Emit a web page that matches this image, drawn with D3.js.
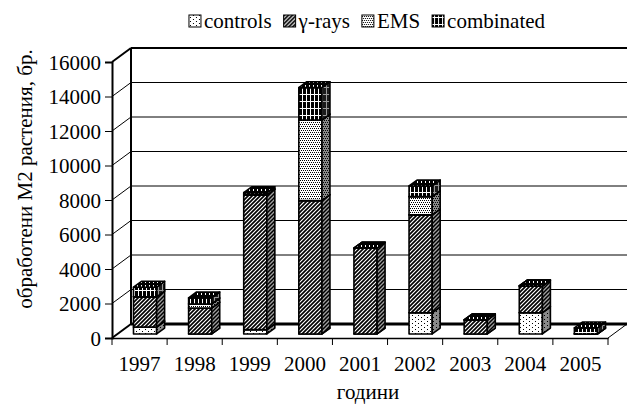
<!DOCTYPE html>
<meta charset="utf-8">
<head>
    <meta charset="utf-8">
    <title>обработени М2 растения</title>
    <script src="https://d3js.org/d3.v7.min.js" charset="utf-8"></script>
    <style>
        html, body {
            margin: 0;
            padding: 0;
            background: #fff;
        }
        text {
            font-family: "Liberation Serif", "Times New Roman", serif;
            font-size: 21px;
            fill: #000;
        }
        .grid line {
            stroke: #000;
            stroke-width: 1;
        }
        .bar-face {
            stroke: #000;
            stroke-width: 1.6;
            stroke-linejoin: round;
        }
    </style>
</head>

<body>
<div class="chart"></div>

<script>

/****************************
1. データ
****************************/
var years = ["1997", "1998", "1999", "2000", "2001", "2002", "2003", "2004", "2005"];

var controls   = [400,  0,    250,  0,    0,    1230, 0,   1230, 0];
var gammaRays  = [1750, 1500, 7810, 7730, 4970, 5670, 810, 1550, 0];
var ems        = [0,    240,  0,    4670, 0,    1060, 0,   0,    0];
var combinated = [560,  350,  130,  1880, 0,    620,  0,   0,    350];

var seriesKeys   = ["controls", "gamma", "ems", "combinated"];
var seriesLabels = ["controls", "γ-rays", "EMS", "combinated"];

var yTicks = [0, 2000, 4000, 6000, 8000, 10000, 12000, 14000, 16000];

var yTitle = "обработени М2 растения, бр.";
var xTitle = "години";

var table = years.map(function(y, i) {
    return {year: y, controls: controls[i], gamma: gammaRays[i], ems: ems[i], combinated: combinated[i]};
});


/****************************
2. svg コンテナ
****************************/
var width = 627, height = 404;
var plot = {left: 112, right: 608, bottom: 338, top: 62};
var depth = {dx: 19, dy: -14};     // 奥行き（擬似3D）

const svg = d3.select(".chart")
    .append("svg")
    .attr("width", width)
    .attr("height", height);

var defs = svg.append("defs");

function addPattern(id, w, h, bg, draw) {
    var p = defs.append("pattern")
        .attr("id", id)
        .attr("patternUnits", "userSpaceOnUse")
        .attr("width", w)
        .attr("height", h);
    p.append("rect").attr("width", w).attr("height", h).attr("fill", bg);
    draw(p);
}

function dots(pts, color) {
    return function(p) {
        pts.forEach(function(d) {
            p.append("rect").attr("x", d[0]).attr("y", d[1]).attr("width", 1).attr("height", 1).attr("fill", color);
        });
    };
}

function diag(color, w) {
    return function(p) {
        p.append("path")
            .attr("d", "M-1,1 L1,-1 M0,4 L4,0 M3,5 L5,3")
            .attr("stroke", color)
            .attr("stroke-width", w);
    };
}

function grid(color) {
    return function(p) {
        p.append("rect").attr("x", 2).attr("y", 0).attr("width", 1).attr("height", 7).attr("fill", color);
        p.append("rect").attr("x", 0).attr("y", 3).attr("width", 4).attr("height", 1).attr("fill", color);
    };
}

// front / side / top
addPattern("controls-front", 6, 4, "#fff", dots([[1, 1], [4, 3]], "#000"));
addPattern("controls-side", 6, 4, "#8a8a8a", dots([[1, 1], [4, 3]], "#000"));
addPattern("controls-top", 6, 4, "#fff", dots([[1, 1], [4, 3]], "#000"));

addPattern("gamma-front", 4, 4, "#fff", diag("#000", 1.7));
addPattern("gamma-side", 4, 4, "#a0a0a0", diag("#000", 1.5));
addPattern("gamma-top", 4, 4, "#ddd", diag("#000", 1.5));

addPattern("ems-front", 4, 4, "#fff", dots([[0, 0], [2, 0], [1, 2], [3, 2]], "#000"));
addPattern("ems-side", 4, 4, "#8a8a8a", dots([[0, 0], [2, 0], [1, 2], [3, 2]], "#000"));
addPattern("ems-top", 4, 4, "#fff", dots([[0, 0], [2, 0], [1, 2], [3, 2]], "#000"));

addPattern("combinated-front", 4, 7, "#000", grid("#fff"));
addPattern("combinated-side", 4, 7, "#1a1a1a", grid("#999"));
addPattern("combinated-top", 4, 4, "#000", function(p) {
    p.append("rect").attr("x", 1).attr("y", 1).attr("width", 1).attr("height", 2).attr("fill", "#fff");
});


/****************************
3. スケール
****************************/
var xScale = d3.scaleBand()
    .domain(years)
    .range([plot.left, plot.right])
    .paddingInner(0.58)
    .paddingOuter(0.29);

var xCat = d3.scaleBand()
    .domain(years)
    .range([plot.left, plot.right]);

var yScale = d3.scaleLinear()
    .domain([0, 16000])
    .range([plot.bottom, plot.top]);

// 棒は奥行きの 0.29 〜 0.71 の位置
var f0 = 0.29, f1 = 0.71;
var ox = depth.dx * f0, oy = depth.dy * f0;
var bdx = depth.dx * (f1 - f0), bdy = depth.dy * (f1 - f0);


/****************************
4. 壁・床・グリッド
****************************/
var backX0 = plot.left + depth.dx;
var backX1 = plot.right + depth.dx;

var gridG = svg.append("g").attr("class", "grid");

// 奥の壁の横線
gridG.selectAll(".back")
    .data(yTicks)
    .enter()
    .append("line")
    .attr("x1", backX0)
    .attr("x2", backX1)
    .attr("y1", d => yScale(d) + depth.dy)
    .attr("y2", d => yScale(d) + depth.dy)
    .style("stroke-width", d => (d == 0 ? 3 : (d == 16000 ? 2 : 1)));

// 左の壁の斜め線
gridG.selectAll(".side")
    .data(yTicks)
    .enter()
    .append("line")
    .attr("x1", plot.left)
    .attr("x2", backX0)
    .attr("y1", d => yScale(d))
    .attr("y2", d => yScale(d) + depth.dy)
    .style("stroke-width", d => (d == 0 || d == 16000 ? 2 : 1));

// 奥の壁の左端
svg.append("line")
    .attr("x1", backX0).attr("x2", backX0)
    .attr("y1", yScale(16000) + depth.dy)
    .attr("y2", yScale(0) + depth.dy)
    .attr("stroke", "#000")
    .attr("stroke-width", 2);

// 床の右端
svg.append("line")
    .attr("x1", plot.right).attr("x2", backX1)
    .attr("y1", yScale(0)).attr("y2", yScale(0) + depth.dy)
    .attr("stroke", "#000")
    .attr("stroke-width", 1);


/****************************
5. 積み上げ棒
****************************/
var stacked = d3.stack().keys(seriesKeys)(table);

var barData = years.map(function(y, i) {
    return stacked.map(layer => ({key: layer.key, y0: layer[i][0], y1: layer[i][1], year: y}));
});

var barG = svg.selectAll(".bar")
    .data(barData)
    .enter()
    .append("g")
    .attr("class", "bar");

var seg = barG.selectAll(".seg")
    .data(d => d)
    .enter()
    .append("g")
    .attr("class", "seg");

function pts(arr) {
    return arr.map(p => p.join(",")).join(" ");
}

seg.each(function(d) {
    var g = d3.select(this);
    var xl = xScale(d.year) + ox;
    var xr = xl + xScale.bandwidth();
    var yt = yScale(d.y1) + oy;
    var yb = yScale(d.y0) + oy;

    if (yb - yt > 0.01) {
        g.append("rect")
            .attr("class", "bar-face")
            .attr("x", xl)
            .attr("y", yt)
            .attr("width", xr - xl)
            .attr("height", yb - yt)
            .attr("fill", "url(#" + d.key + "-front)");
        g.append("polygon")
            .attr("class", "bar-face")
            .attr("points", pts([[xr, yt], [xr + bdx, yt + bdy], [xr + bdx, yb + bdy], [xr, yb]]))
            .attr("fill", "url(#" + d.key + "-side)");
    }
    g.append("polygon")
        .attr("class", "bar-face")
        .attr("points", pts([[xl, yt], [xl + bdx, yt + bdy], [xr + bdx, yt + bdy], [xr, yt]]))
        .attr("fill", "url(#" + d.key + "-top)");
});


/****************************
6. 軸
****************************/
var yAxis = svg.append("g")
    .attr("transform", "translate(" + plot.left + ",0)")
    .call(d3.axisLeft(yScale).tickValues(yTicks).tickSize(7).tickPadding(4).tickFormat(d3.format("d")))
    .attr("font-family", null)
    .attr("font-size", null);

yAxis.select(".domain").attr("stroke-width", 2);
yAxis.selectAll(".tick line").attr("stroke-width", 1);
yAxis.selectAll("text").attr("dy", "0.34em");

var xAxis = svg.append("g")
    .attr("transform", "translate(0," + plot.bottom + ")")
    .call(d3.axisBottom(xCat).tickSize(0).tickPadding(18))
    .attr("font-family", null)
    .attr("font-size", null);

xAxis.select(".domain").attr("stroke-width", 1.5);

// カテゴリ境界の目盛り
svg.selectAll(".xtick")
    .data([plot.left].concat(years.map(y => xCat(y) + xCat.bandwidth())))
    .enter()
    .append("line")
    .attr("x1", d => d).attr("x2", d => d)
    .attr("y1", plot.bottom).attr("y2", plot.bottom + 7)
    .attr("stroke", "#000");

// 軸タイトル
svg.append("text")
    .attr("transform", "translate(32,179) rotate(-90)")
    .style("text-anchor", "middle")
    .text(yTitle);

svg.append("text")
    .attr("x", 368)
    .attr("y", 399)
    .style("text-anchor", "middle")
    .text(xTitle);


/****************************
7. 凡例
****************************/
var legend = svg.append("g");
var lx = 0;
seriesKeys.forEach(function(k, i) {
    var item = legend.append("g").attr("transform", "translate(" + lx + ",0)");
    item.append("rect")
        .attr("x", 0).attr("y", 15)
        .attr("width", 12).attr("height", 12)
        .attr("fill", "url(#" + k + "-front)")
        .attr("stroke", "#000")
        .attr("stroke-width", 1);
    var t = item.append("text")
        .attr("x", 15)
        .attr("y", 28)
        .text(seriesLabels[i]);
    lx += 15 + t.node().getComputedTextLength() + 12;
});
var legendW = lx - 12;
legend.attr("transform", "translate(" + (367 - legendW / 2) + ",0)");

</script>
</body>
